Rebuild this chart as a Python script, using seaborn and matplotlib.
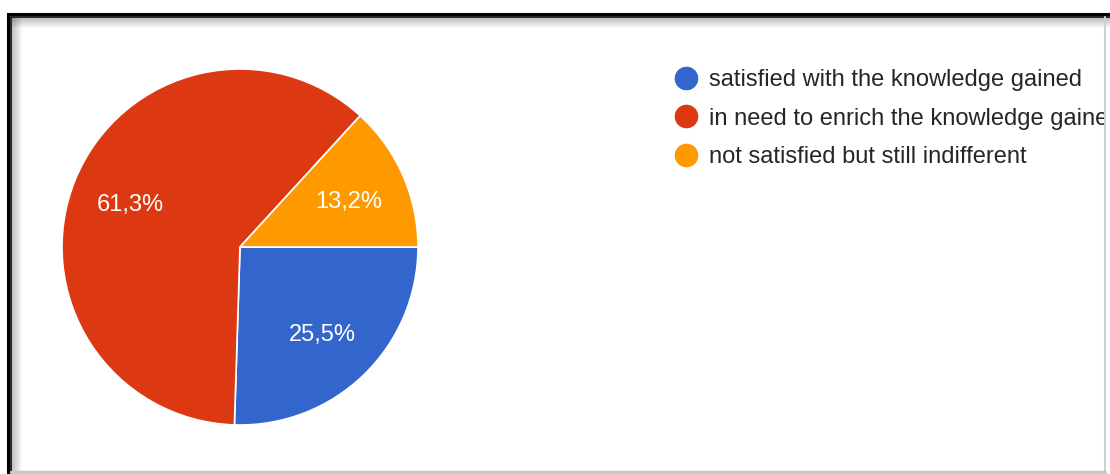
import matplotlib
matplotlib.use("Agg")
import matplotlib.pyplot as plt
from matplotlib.lines import Line2D
from matplotlib.patches import Rectangle
import numpy as np
import seaborn as sns

# Survey answers and their shares (percent)
categories = [
    "satisfied with the knowledge gained",
    "in need to enrich the knowledge gained",
    "not satisfied but still indifferent",
]
shares = [25.5, 61.3, 13.2]
share_labels = ["25,5%", "61,3%", "13,2%"]
colors = ["#3366cc", "#dc3912", "#ff9900"]

sns.set_style("white")
plt.rcParams["font.family"] = ["Liberation Sans", "DejaVu Sans"]

W, H = 1110, 474
fig = plt.figure(figsize=(W / 100, H / 100), dpi=100)
fig.patch.set_facecolor("white")

# pie axes: centre (240, 247) px, radius 178 px
cx, cy, r = 240, 247, 178
ax = fig.add_axes([(cx - r) / W, (H - cy - r) / H, 2 * r / W, 2 * r / H])
wedges, _ = ax.pie(
    shares,
    colors=colors,
    startangle=0,
    counterclock=False,
    wedgeprops=dict(edgecolor="white", linewidth=1.2),
)
# value labels inside the slices
angle = 0.0
for share, lab in zip(shares, share_labels):
    mid = np.deg2rad(angle - share * 3.6 / 2)
    angle -= share * 3.6
    ax.text(0.665 * np.cos(mid), 0.665 * np.sin(mid) - 0.015, lab,
            ha="center", va="center", color="white", fontsize=17)
ax.set_xlim(-1, 1)
ax.set_ylim(-1, 1)
ax.set_aspect("equal")
ax.axis("off")

# legend with round markers
handles = [Line2D([], [], marker="o", linestyle="none", markersize=16,
                  markerfacecolor=c, markeredgecolor=c) for c in colors]
fig.legend(handles, categories, loc="upper left",
           bbox_to_anchor=(674 / W, 1 - 69 / H), frameon=False,
           fontsize=17, handlelength=1.0, handletextpad=0.475,
           labelspacing=0.70, borderpad=0, borderaxespad=0,
           labelcolor="#262626")

# frame drawn in pixel coordinates on top of everything
ov = fig.add_axes([0, 0, 1, 1], zorder=20)
ov.set_xlim(0, W)
ov.set_ylim(H, 0)
ov.axis("off")
ov.patch.set_alpha(0)
# right margin cut
ov.add_patch(Rectangle((1104, 0), 10, H, facecolor="white", edgecolor="none"))
# soft inner shadow
for i in range(10):
    a = 0.4 * (1 - i / 10)
    ov.add_patch(Rectangle((12 + i, 18), 1, H, facecolor="black", alpha=a * 0.6, edgecolor="none"))
    ov.add_patch(Rectangle((12, 18 + i), W, 1, facecolor="black", alpha=a * 0.6, edgecolor="none"))
ov.plot([8, 8, W], [H, 14, 14], color="black", lw=2.2, solid_joinstyle="miter")
ov.plot([11, 11, W], [H, 17, 17], color="black", lw=1.2, solid_joinstyle="miter")
ov.plot([1105, 1105], [17, H], color="#d0d0d0", lw=1.5)
ov.plot([11, 1105], [472, 472], color="#c8c8c8", lw=2.5)

fig.savefig("out.png", dpi=100, facecolor="white")
